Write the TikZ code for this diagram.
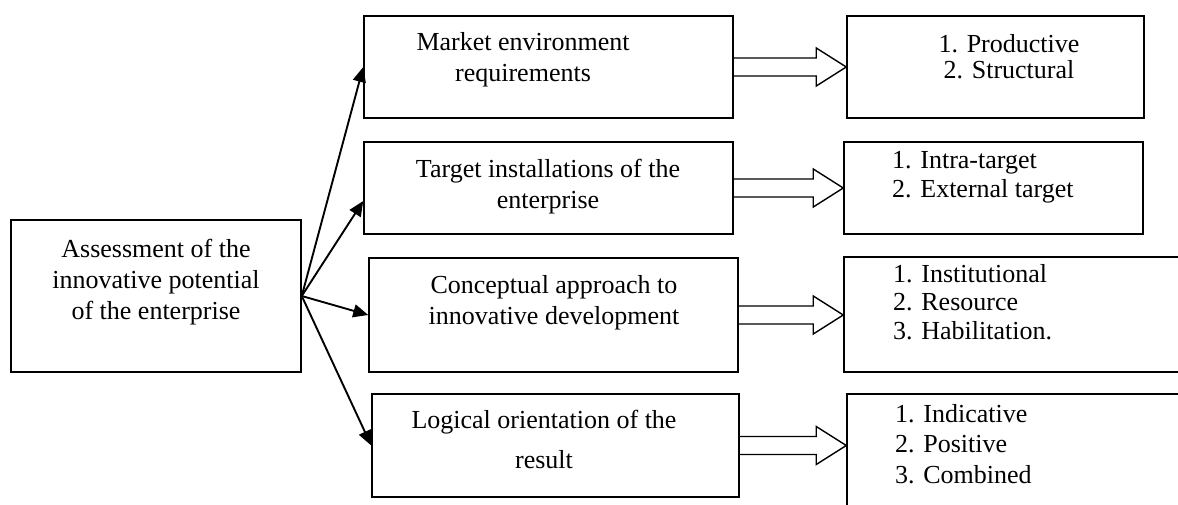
\documentclass[tikz,border=0pt]{standalone}
\usepackage{fontspec}
\setmainfont{Liberation Serif}
\usetikzlibrary{arrows.meta,calc}

\begin{document}
\begin{tikzpicture}[x=1pt, y=-1pt,
  box/.style={draw, line width=1.5pt, inner sep=0pt},
  txt/.style={inner sep=0pt, font=\fontsize{26}{31}\selectfont},
  link/.style={line width=1.9pt, -{Triangle[length=15pt,width=13pt]}},
  fat/.style={line width=1.4pt, line join=miter}]
  \useasboundingbox (0,0) rectangle (1178,505);
  % Source box on the left
  \node[box, minimum width=290, minimum height=152] (src) at (156,296) {};
  \node[txt, anchor=north, align=center] (src-txt) at (156,239) {Assessment of the\\innovative potential\\of the enterprise};
  % Middle column
  \node[box, minimum width=369, minimum height=102] (mkt) at (548.5,67) {};
  \node[box, minimum width=369, minimum height=92] (tgt) at (548.5,188) {};
  \node[box, minimum width=369, minimum height=114] (cpt) at (553.5,315) {};
  \node[box, minimum width=367, minimum height=103] (lgc) at (555.5,445.5) {};
  \node[txt, anchor=north, align=center] (mkt-txt) at (523,32) {Market environment\\requirements};
  \node[txt, anchor=north, align=center] (tgt-txt) at (548,159) {Target installations of the\\enterprise};
  \node[txt, anchor=north, align=center] (cpt-txt) at (554,275) {Conceptual approach to\\innovative development};
  \node[txt, anchor=north, align=center, font=\fontsize{26}{40}\selectfont] (lgc-txt) at (544,410) {Logical orientation of the\\result};
  % Right column
  \node[box, minimum width=297, minimum height=102] (out1) at (995.5,67) {};
  \node[box, minimum width=299, minimum height=92] (out2) at (993.5,188) {};
  \node[box, minimum width=341, minimum height=115] (out3) at (1014.5,314.5) {};
  \node[box, minimum width=338, minimum height=126] (out4) at (1016,457) {};
  \node[txt, anchor=north, align=center, font=\fontsize{26}{26}\selectfont] (out1-txt) at (1009,34) {1. Productive\\2. Structural};
  \node[txt, anchor=north west, align=left, font=\fontsize{26}{29}\selectfont] (out2-txt) at (892,151) {1. Intra-target\\2. External target};
  \node[txt, anchor=north west, align=left, font=\fontsize{26}{28.5}\selectfont] (out3-txt) at (893,264) {1. Institutional\\2. Resource\\3. Habilitation.};
  \node[txt, anchor=north west, align=left, font=\fontsize{26}{30.5}\selectfont] (out4-txt) at (895,404) {1. Indicative\\2. Positive\\3. Combined};
  % Arrows fanning out of the source box
  \draw[link] (src.east) -- (mkt.west);
  \draw[link] (src.east) -- ([yshift=-13pt]tgt.west);
  \draw[link] (src.east) -- (cpt.west);
  \draw[link] (src.east) -- (lgc.west);
  % Hollow arrows into the lists
  \foreach \a/\b in {mkt/out1, tgt/out2, cpt/out3, lgc/out4} {
    \draw[fat] ($(\a.east)+(0,-9)$) -- ($(\a.east -| \b.west)+(-30,-9)$)
      -- ($(\a.east -| \b.west)+(-30,-19)$) -- (\a.east -| \b.west)
      -- ($(\a.east -| \b.west)+(-30,19)$) -- ($(\a.east -| \b.west)+(-30,9)$)
      -- ($(\a.east)+(0,9)$);
  }
\end{tikzpicture}
\end{document}
